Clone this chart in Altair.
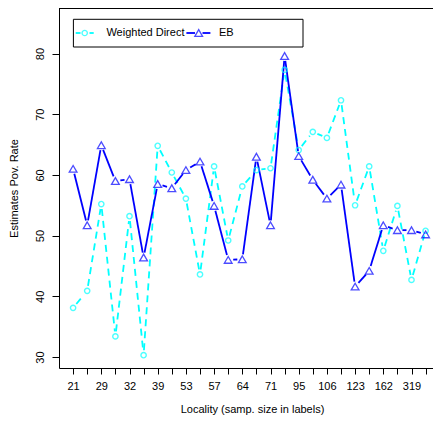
import json
import math
import altair as alt
import pandas as pd

# ---- data ----
sizes = [21, 25, 29, 30, 32, 36, 39, 47, 53, 55, 57, 60, 64, 68, 71, 84, 95, 99, 106, 117, 123, 145, 162, 240, 319, 450]
direct = [38.1, 40.9, 55.2, 33.4, 53.2, 30.3, 64.8, 60.4, 56.1, 43.6, 61.4, 49.2, 58.1, 60.8, 61.1, 77.3,
          64.1, 67.1, 66.1, 72.3, 55.0, 61.4, 47.5, 54.9, 42.7, 50.8]
eb = [61.0, 51.7, 64.9, 59.0, 59.3, 46.4, 58.5, 57.8, 60.8, 62.2, 54.9, 46.0, 46.1, 63.0, 51.7, 79.6,
      63.1, 59.2, 56.1, 58.4, 41.6, 44.2, 51.7, 50.9, 50.9, 50.2]
y_ticks = [30, 40, 50, 60, 70, 80]
series_names = ["Weighted Direct", "EB"]

FONT = "Liberation Sans"
CYAN = "#00FFFF"
BLUE = "#0000FF"

W, H = 374, 360
STEP = 14.1
XD = [-1, -1 + W / STEP]
YD = [28.19, 87.5]
kx = W / (XD[1] - XD[0])
ky = H / (YD[1] - YD[0])
GAP = 5  # pixel gap around points (R type="b")

idx = list(range(len(sizes)))
pts = pd.DataFrame({"idx": idx, "direct": direct, "eb": eb})


def segments(vals):
    rows = []
    for i in range(len(vals) - 1):
        dv = vals[i + 1] - vals[i]
        L = math.hypot(kx, dv * ky)
        if L <= 2 * GAP:
            continue
        t = GAP / L
        rows.append(dict(x=i + t, y=vals[i] + t * dv, x2=i + 1 - t, y2=vals[i + 1] - t * dv))
    return pd.DataFrame(rows)


seg_direct = segments(direct)
seg_eb = segments(eb)

label_arr = json.dumps([str(s) for s in sizes])
xscale = alt.Scale(domain=XD, nice=False, zero=False)
yscale = alt.Scale(domain=YD, nice=False, zero=False)

xaxis = alt.Axis(values=idx, labelExpr=f"datum.value % 2 == 0 ? {label_arr}[datum.value] : ''",
                 title="Locality (samp. size in labels)", grid=False, tickSize=6, labelPadding=6,
                 labelOverlap=False, labelFlush=False, labelFontSize=11, labelFont=FONT,
                 labelColor="black", tickColor="black", domainColor="black",
                 titleFont=FONT, titleFontSize=11, titleFontWeight="normal", titleColor="black",
                 titleX=193, titleY=41, titleAnchor="middle", titleAlign="center", titleBaseline="middle")
yaxis = alt.Axis(values=y_ticks, title="Estimates Pov. Rate", grid=False, tickSize=7, labelPadding=12,
                 labelAngle=270, labelAlign="center", labelBaseline="middle",
                 labelFontSize=11, labelFont=FONT, labelColor="black", tickColor="black",
                 domainColor="black", titleFont=FONT, titleFontSize=11, titleFontWeight="normal",
                 titleColor="black", titleAngle=270, titleX=-45, titleY=180,
                 titleAlign="center", titleBaseline="middle")


def X(field):
    return alt.X(field, type="quantitative", scale=xscale, axis=xaxis)


def Y(field):
    return alt.Y(field, type="quantitative", scale=yscale, axis=yaxis)


lines_direct = alt.Chart(seg_direct).mark_rule(color=CYAN, strokeWidth=1.8, strokeDash=[7, 5]).encode(
    x=X("x"), y=Y("y"), x2="x2", y2="y2")
lines_eb = alt.Chart(seg_eb).mark_rule(color=BLUE, strokeWidth=1.8).encode(
    x=X("x"), y=Y("y"), x2="x2", y2="y2")
pts_direct = alt.Chart(pts).mark_point(shape="circle", filled=False, color=CYAN, size=28, strokeWidth=1.4).encode(
    x=X("idx"), y=Y("direct"))
pts_eb = alt.Chart(pts).mark_point(shape="triangle-up", filled=False, color=BLUE, size=60, strokeWidth=1.3).encode(
    x=X("idx"), y=Y("eb"))

one = alt.Data(values=[{"a": 1}])
top_border = alt.Chart(one).mark_rule(color="black", strokeWidth=1).encode(
    x=alt.value(0), x2=alt.value(W), y=alt.value(0.5), y2=alt.value(0.5))

# legend (R style box)
LY = 25
leg_box = alt.Chart(one).mark_rect(fill="white", stroke="black", strokeWidth=1).encode(
    x=alt.value(14.4), x2=alt.value(244), y=alt.value(11.3), y2=alt.value(39))
leg_c1 = alt.Chart(one).mark_rule(color=CYAN, strokeWidth=1.8).encode(
    x=alt.value(16.7), x2=alt.value(21.5), y=alt.value(LY), y2=alt.value(LY))
leg_c2 = alt.Chart(one).mark_rule(color=CYAN, strokeWidth=1.8).encode(
    x=alt.value(30.5), x2=alt.value(34.7), y=alt.value(LY), y2=alt.value(LY))
leg_cp = alt.Chart(one).mark_point(shape="circle", filled=False, color=CYAN, size=28, strokeWidth=1.4).encode(
    x=alt.value(25.7), y=alt.value(LY))
leg_b1 = alt.Chart(one).mark_rule(color=BLUE, strokeWidth=1.8).encode(
    x=alt.value(127.4), x2=alt.value(136), y=alt.value(LY), y2=alt.value(LY))
leg_b2 = alt.Chart(one).mark_rule(color=BLUE, strokeWidth=1.8).encode(
    x=alt.value(143.5), x2=alt.value(151.4), y=alt.value(LY), y2=alt.value(LY))
leg_bp = alt.Chart(one).mark_point(shape="triangle-up", filled=False, color=BLUE, size=60, strokeWidth=1.3).encode(
    x=alt.value(139.7), y=alt.value(LY))
leg_t1 = alt.Chart(one).mark_text(text=series_names[0], align="left", baseline="middle", font=FONT,
                                  fontSize=11, color="black").encode(x=alt.value(47.4), y=alt.value(LY))
leg_t2 = alt.Chart(one).mark_text(text=series_names[1], align="left", baseline="middle", font=FONT,
                                  fontSize=11, color="black").encode(x=alt.value(160), y=alt.value(LY))

chart = alt.layer(
    lines_direct, lines_eb, pts_direct, pts_eb, top_border,
    leg_box, leg_c1, leg_c2, leg_cp, leg_b1, leg_b2, leg_bp, leg_t1, leg_t2
).properties(
    width=W, height=H,
    autosize=alt.AutoSizeParams(type="none"),
    padding={"left": 51, "top": 0, "right": 0, "bottom": 48},
    background="white",
).configure_view(strokeWidth=0)

chart.save("out.html", embed_options={"renderer": "svg", "actions": False})
